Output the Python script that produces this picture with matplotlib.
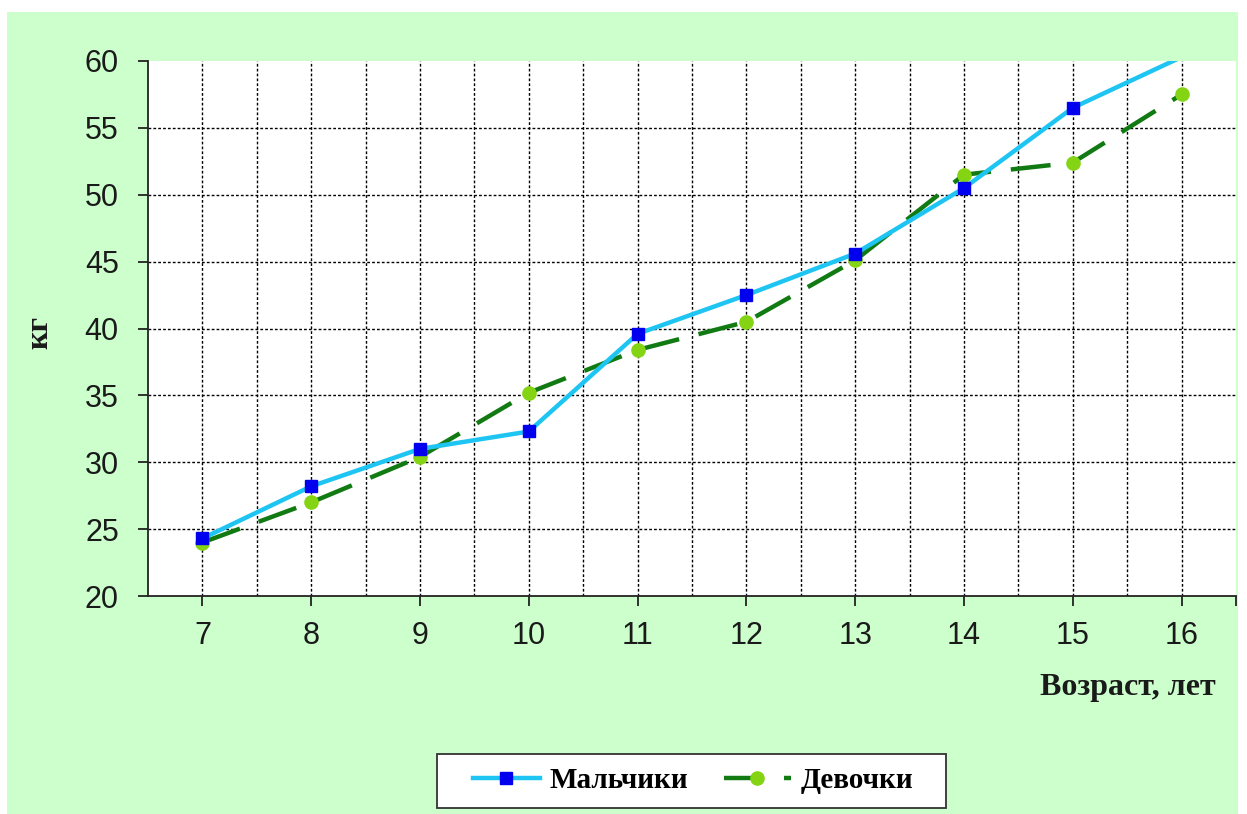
import matplotlib
matplotlib.use("Agg")
import matplotlib.pyplot as plt
from matplotlib.patches import Rectangle
import numpy as np

# возраст, лет
ages = [7, 8, 9, 10, 11, 12, 13, 14, 15, 16]
# масса тела, кг
boys = [24.3, 28.2, 31.0, 32.3, 39.6, 42.5, 45.6, 50.5, 56.5, 60.3]
girls = [24.0, 27.0, 30.4, 35.2, 38.4, 40.5, 45.1, 51.5, 52.4, 57.5]

W, H = 1247, 814
fig = plt.figure(figsize=(W / 100, H / 100), dpi=100, facecolor="white")
# зелёная подложка диаграммы
fig.patches.append(Rectangle((7 / W, 0), 1231 / W, 802 / H,
                             transform=fig.transFigure, facecolor="#ccffcc",
                             edgecolor="none", zorder=-10))

ax = fig.add_axes([148 / W, 1 - 596 / H, 1088 / W, 535 / H])
ax.set_facecolor("white")

# маркеры точек за пределами шкалы не рисуются
in_range = [i for i, v in enumerate(boys) if v <= 60]
ax.plot(ages, boys, color="#1ec5f3", lw=3.2, marker="s", markersize=8.5,
        markevery=in_range,
        markerfacecolor="#0000ee", markeredgecolor="#0000ee",
        label="Мальчики", zorder=4)
ax.plot(ages, girls, color="#127a12", lw=3.2, dashes=(9, 4.5), marker="o",
        markersize=9.5, markerfacecolor="#84d414", markeredgecolor="#84d414",
        label="Девочки", zorder=3)

ax.set_xlim(6.5, 16.5)
ax.set_ylim(20, 60)

# сетка: вертикальные линии через полшага, горизонтальные через 5 кг
for x in np.arange(7, 16.01, 0.5):
    ax.axvline(x, color="black", lw=1.0, ls=(0, (2, 1.5)), zorder=1)
for y in range(25, 60, 5):
    ax.axhline(y, color="black", lw=1.0, ls=(0, (2, 1.5)), zorder=1)

ax.spines["top"].set_visible(False)
ax.spines["right"].set_visible(False)
for s in ("left", "bottom"):
    ax.spines[s].set_linewidth(1.3)
    ax.spines[s].set_color("#222222")

ax.set_xticks(ages + [16.5])
ax.set_xticklabels([str(a) for a in ages] + [""])
ax.set_yticks(range(20, 61, 5))
ax.tick_params(axis="both", direction="out", length=7, width=1.3,
               color="#222222", labelsize=22, labelcolor="#1a1a1a",
               labelfontfamily="Liberation Sans")
ax.tick_params(axis="x", pad=11)
ax.tick_params(axis="y", pad=14)

ax.set_xlabel("Возраст, лет", fontfamily="Liberation Serif", fontweight="bold",
              fontsize=23, color="#1a1a1a")
ax.xaxis.set_label_coords((1128 - 148) / 1088, -(673 - 596) / 535)
ax.set_ylabel("кг", fontfamily="Liberation Serif", fontweight="bold",
              fontsize=23, color="#1a1a1a")
ax.yaxis.set_label_coords(-(148 - 54) / 1088, (596 - 332) / 535)

# рамка легенды
fig.patches.append(Rectangle((437 / W, 1 - 808 / H), 509 / W, 54 / H,
                             transform=fig.transFigure, facecolor="white",
                             edgecolor="#333333", lw=1.3, zorder=5))
leg = fig.legend(loc="center", bbox_to_anchor=(693 / W, 1 - 781 / H),
                 ncol=2, frameon=False,
                 prop={"family": "Liberation Serif", "weight": "bold", "size": 21},
                 handlelength=2.3, columnspacing=1.2, handletextpad=0.35,
                 borderpad=0.3, borderaxespad=0)
leg.set_zorder(6)

fig.savefig("out.png", dpi=100, facecolor=fig.get_facecolor())
